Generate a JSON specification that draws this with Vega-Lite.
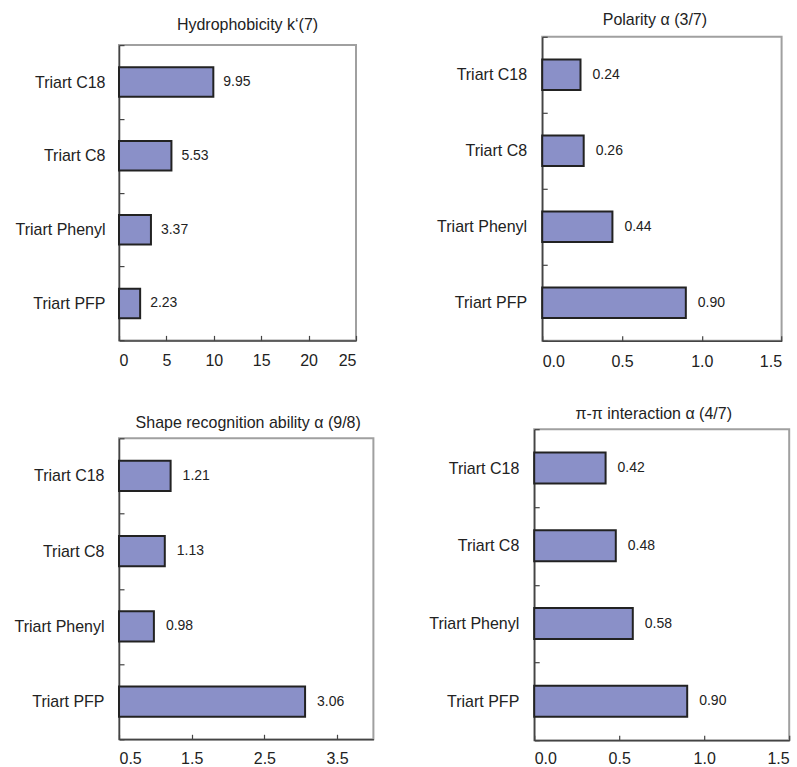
{
  "$schema": "https://vega.github.io/schema/vega-lite/v6.json",
  "padding": {"left": 0, "top": 10.7, "right": 0, "bottom": 0},
  "background": "white",
  "config": {
    "font": "Liberation Sans",
    "view": {"stroke": "#a0a0a0", "strokeWidth": 2},
    "axis": {"labelFont": "Liberation Sans", "labelColor": "#222", "domainColor": "#444", "domainWidth": 1.5, "tickColor": "#444", "tickWidth": 1.2, "grid": false, "title": null},
    "title": {"font": "Liberation Sans", "fontSize": 16, "fontWeight": "normal", "color": "#222", "anchor": "middle"}
  },
  "datasets": {
    "all": [
      {"panel": "hyd", "column": "Triart C18", "value": 9.95},
      {"panel": "hyd", "column": "Triart C8", "value": 5.53},
      {"panel": "hyd", "column": "Triart Phenyl", "value": 3.37},
      {"panel": "hyd", "column": "Triart PFP", "value": 2.23},
      {"panel": "pol", "column": "Triart C18", "value": 0.24},
      {"panel": "pol", "column": "Triart C8", "value": 0.26},
      {"panel": "pol", "column": "Triart Phenyl", "value": 0.44},
      {"panel": "pol", "column": "Triart PFP", "value": 0.90},
      {"panel": "shape", "column": "Triart C18", "value": 1.21},
      {"panel": "shape", "column": "Triart C8", "value": 1.13},
      {"panel": "shape", "column": "Triart Phenyl", "value": 0.98},
      {"panel": "shape", "column": "Triart PFP", "value": 3.06},
      {"panel": "pi", "column": "Triart C18", "value": 0.42},
      {"panel": "pi", "column": "Triart C8", "value": 0.48},
      {"panel": "pi", "column": "Triart Phenyl", "value": 0.58},
      {"panel": "pi", "column": "Triart PFP", "value": 0.90}
    ]
  },
  "center": true,
  "spacing": 51.0,
  "hconcat": [
    {
      "spacing": 42.2,
      "vconcat": [
        {
          "width": 237, "height": 295.3,
          "title": {"text": "Hydrophobicity k‘(7)", "offset": 4.3, "dx": 10},
          "data": {"name": "all"},
          "transform": [{"filter": "datum.panel === 'hyd'"}],
          "encoding": {
            "y": {"field": "column", "type": "nominal", "sort": ["Triart C18", "Triart C8", "Triart Phenyl", "Triart PFP"], "scale": {"paddingInner": 0, "paddingOuter": 0},
                  "axis": {"tickBand": "extent", "tickSize": -5, "labelFontSize": 16, "labelPadding": 19, "minExtent": 117.8, "maxExtent": 117.8, "labelLimit": 200}},
            "x": {"field": "value", "type": "quantitative", "scale": {"domain": [0, 25], "nice": false},
                  "axis": {"values": [0, 5, 10, 15, 20, 25], "tickSize": -5, "labelFontSize": 16, "labelPadding": 17.3, "minExtent": 30, "maxExtent": 30}}
          },
          "layer": [
            {"mark": {"type": "bar", "height": {"band": 0.4}, "fill": "#8a90c8", "stroke": "#222", "strokeWidth": 2}},
            {"mark": {"type": "text", "align": "left", "baseline": "middle", "dx": 10, "fontSize": 14, "color": "#222"}, "encoding": {"text": {"field": "value", "type": "quantitative", "format": ".2f"}}}
          ]
        },
        {
          "width": 254.4, "height": 301,
          "title": {"text": "Shape recognition ability  α (9/8)", "offset": -1.2, "dx": 2},
          "data": {"name": "all"},
          "transform": [{"filter": "datum.panel === 'shape'"}],
          "encoding": {
            "y": {"field": "column", "type": "nominal", "sort": ["Triart C18", "Triart C8", "Triart Phenyl", "Triart PFP"], "scale": {"paddingInner": 0, "paddingOuter": 0},
                  "axis": {"tickBand": "extent", "tickSize": -5, "labelFontSize": 16, "labelPadding": 20, "minExtent": 117.8, "maxExtent": 117.8, "labelLimit": 200}},
            "x": {"field": "value", "type": "quantitative", "scale": {"domain": [0.5, 4], "nice": false, "zero": false},
                  "axis": {"values": [0.5, 1.5, 2.5, 3.5], "format": ".1f", "tickSize": -5, "labelFontSize": 16, "labelPadding": 15.8, "minExtent": 30, "maxExtent": 30}}
          },
          "layer": [
            {"mark": {"type": "bar", "height": {"band": 0.4}, "fill": "#8a90c8", "stroke": "#222", "strokeWidth": 2}, "encoding": {"x2": {"datum": 0.5}}},
            {"mark": {"type": "text", "align": "left", "baseline": "middle", "dx": 12, "fontSize": 14, "color": "#222"}, "encoding": {"text": {"field": "value", "type": "quantitative", "format": ".2f"}}}
          ]
        }
      ]
    },
    {
      "spacing": 33.4,
      "center": true,
      "vconcat": [
        {
          "width": 239.4, "height": 304,
          "title": {"text": "Polarity  α (3/7)", "offset": 0.4, "dx": -7},
          "data": {"name": "all"},
          "transform": [{"filter": "datum.panel === 'pol'"}],
          "encoding": {
            "y": {"field": "column", "type": "nominal", "sort": ["Triart C18", "Triart C8", "Triart Phenyl", "Triart PFP"], "scale": {"paddingInner": 0, "paddingOuter": 0},
                  "axis": {"title": " ", "titleFontSize": 1, "titlePadding": 0, "tickBand": "extent", "tickSize": -5, "labelFontSize": 16, "labelPadding": 20.6, "minExtent": 110.2, "maxExtent": 110.2, "labelLimit": 200}},
            "x": {"field": "value", "type": "quantitative", "scale": {"domain": [0, 1.5], "nice": false},
                  "axis": {"values": [0, 0.5, 1, 1.5], "format": ".1f", "tickSize": -5, "labelFontSize": 16, "labelPadding": 17.3, "minExtent": 30, "maxExtent": 30}}
          },
          "layer": [
            {"mark": {"type": "bar", "height": {"band": 0.4}, "fill": "#8a90c8", "stroke": "#222", "strokeWidth": 2}},
            {"mark": {"type": "text", "align": "left", "baseline": "middle", "dx": 12, "fontSize": 14, "color": "#222"}, "encoding": {"text": {"field": "value", "type": "quantitative", "format": ".2f"}}}
          ]
        },
        {
          "width": 255, "height": 311,
          "title": {"text": "π-π interaction  α (4/7)", "offset": -1.2, "dx": -8},
          "data": {"name": "all"},
          "transform": [{"filter": "datum.panel === 'pi'"}],
          "encoding": {
            "y": {"field": "column", "type": "nominal", "sort": ["Triart C18", "Triart C8", "Triart Phenyl", "Triart PFP"], "scale": {"paddingInner": 0, "paddingOuter": 0},
                  "axis": {"tickBand": "extent", "tickSize": -5, "labelFontSize": 16, "labelPadding": 20.4, "minExtent": 106.2, "maxExtent": 106.2, "labelLimit": 200}},
            "x": {"field": "value", "type": "quantitative", "scale": {"domain": [0, 1.5], "nice": false},
                  "axis": {"values": [0, 0.5, 1, 1.5], "format": ".1f", "tickSize": -5, "labelFontSize": 16, "labelPadding": 15.8, "minExtent": 37.4, "maxExtent": 37.4}}
          },
          "layer": [
            {"mark": {"type": "bar", "height": {"band": 0.4}, "fill": "#8a90c8", "stroke": "#222", "strokeWidth": 2}},
            {"mark": {"type": "text", "align": "left", "baseline": "middle", "dx": 12, "fontSize": 14, "color": "#222"}, "encoding": {"text": {"field": "value", "type": "quantitative", "format": ".2f"}}}
          ]
        }
      ]
    }
  ]
}
